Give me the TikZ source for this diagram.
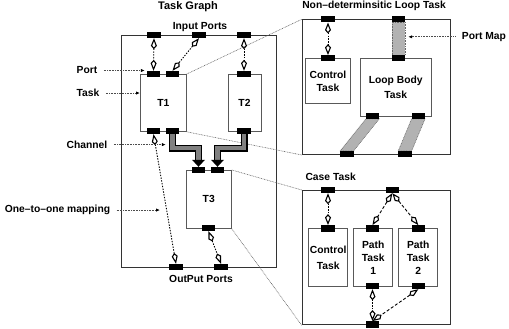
\documentclass[tikz,border=0pt]{standalone}
\usepackage{fontspec}
\setmainfont{Liberation Sans}
\usetikzlibrary{arrows.meta}
\tikzset{
  mapkite/.tip={Kite[open, length=11pt, width=6pt, inset=3.4pt, line width=1.1pt]},
  frame/.style={draw=black!80, line width=1pt, inner sep=0pt, anchor=north west},
  taskbox/.style={draw=black!65, line width=0.8pt, inner sep=0pt, anchor=north west, align=center},
  port/.style={fill=black, minimum width=13pt, minimum height=6pt, inner sep=0pt},
  map/.style={mapkite-mapkite, line width=0.9pt, dash pattern=on 1.4pt off 1.4pt},
  casemap/.style={mapkite-mapkite, line width=0.9pt, dash pattern=on 3pt off 2pt},
  lab/.style={draw=black!70, line width=0.8pt, dash pattern=on 0.8pt off 0.8pt,
    -{Latex[length=4pt, width=3.4pt, color=black]}},
  zoomline/.style={draw=black!60, line width=0.6pt, dash pattern=on 0.8pt off 0.8pt},
  chanout/.style={line width=7pt, draw=black},
  chanin/.style={line width=4.6pt, draw=black!50},
  band/.style={fill=black!30, draw=black!60, line width=0.6pt, dash pattern=on 0.8pt off 0.8pt},
  title/.style={font=\fontsize{11}{13}\selectfont\bfseries, anchor=base},
  txt/.style={anchor=base}
}
\begin{document}
\begin{tikzpicture}[x=1pt, y=-1pt, font=\fontsize{10.3}{13}\selectfont\bfseries]
\useasboundingbox (0,0) rectangle (509,329);

% ---------- Task graph ----------
\node[frame, minimum width=154.5pt, minimum height=232pt] (tg) at (121,35) {};
\node[taskbox, minimum width=46pt, minimum height=57pt] (T1) at (140,74) {T1};
\node[taskbox, minimum width=33.2pt, minimum height=57pt] (T2) at (227.5,74) {T2};
\node[taskbox, minimum width=45.3pt, minimum height=58pt] (T3) at (185.7,170) {T3};

% ---------- Loop task ----------
\node[frame, minimum width=148.3pt, minimum height=134.7pt] (loop) at (301.7,19.3) {};
\node[taskbox, minimum width=45pt, minimum height=44.4pt] (lctrl) at (305,58.3) {Control\\Task};
\node[taskbox, minimum width=70.7pt, minimum height=57.4pt] (lbody) at (360,58.3) {Loop Body\\[1.4pt]Task};

% ---------- Case task ----------
\node[frame, minimum width=148.3pt, minimum height=134.3pt] (case) at (301.7,190) {};
\node[taskbox, minimum width=39pt, minimum height=57.7pt] (cctrl) at (308.3,228.3) {Control\\[3pt]Task};
\node[taskbox, minimum width=39pt, minimum height=57.7pt] (path1) at (353.3,228.3) {Path\\Task\\1};
\node[taskbox, minimum width=39pt, minimum height=57.7pt] (path2) at (398.3,228.3) {Path\\Task\\2};

% ---------- Ports ----------
\node[port] (ip1) at (154,35) {};
\node[port] (ip2) at (199,35) {};
\node[port] (ip3) at (244,35) {};
\node[port] (t1a) at (153.5,74) {};
\node[port] (t1b) at (172.5,74) {};
\node[port] (t1c) at (153.5,131) {};
\node[port] (t1d) at (172.5,131) {};
\node[port] (t2a) at (244,74) {};
\node[port] (t2b) at (244,131) {};
\node[port] (t3a) at (198.5,170) {};
\node[port] (t3b) at (217.5,170) {};
\node[port] (t3c) at (208.5,228) {};
\node[port] (op1) at (176,267) {};
\node[port] (op2) at (221,267) {};

\node[port] (lp1) at (328,19.3) {};
\node[port] (lp2) at (398.5,19.3) {};
\node[port] (lc) at (328,58.3) {};
\node[port] (lb1) at (398.5,58.3) {};
\node[port] (lb2) at (372.5,115.7) {};
\node[port] (lb3) at (418.3,115.7) {};
\node[port] (lo1) at (347,154) {};
\node[port] (lo2) at (405,154) {};

\node[port] (cp1) at (328,190) {};
\node[port] (cp2) at (392.3,190) {};
\node[port] (cc) at (328,228.3) {};
\node[port] (c1a) at (372.5,228.3) {};
\node[port] (c2a) at (418.3,228.3) {};
\node[port] (c1b) at (372.5,286) {};
\node[port] (c2b) at (418.3,286) {};
\node[port] (co) at (372.5,324.3) {};

% ---------- Zoom guide lines ----------
\draw[zoomline] (T1.north east) -- (loop.north west);
\draw[zoomline] (T1.south east) -- (loop.south west);
\draw[zoomline] (T3.north east) -- (case.north west);
\draw[zoomline] (T3.south east) -- (case.south west);

% ---------- Port maps of the loop task ----------
\filldraw[band] (lp2.south west) rectangle (lb1.north east);
\filldraw[band] (lb2.south west) -- (lb2.south east) -- (lo1.north east) -- (lo1.north west) -- cycle;
\filldraw[band] (lb3.south west) -- (lb3.south east) -- (lo2.north east) -- (lo2.north west) -- cycle;

% ---------- Channels ----------
\coordinate (chy) at (0,148);
\coordinate (tri) at (0,160);
\draw[chanout] (t1d.center) |- (t3a |- chy) -- (t3a |- tri);
\draw[chanin]  (t1d.center) |- (t3a |- chy) -- (t3a |- tri);
\draw[chanout] (t2b.center) |- (t3b |- chy) -- (t3b |- tri);
\draw[chanin]  (t2b.center) |- (t3b |- chy) -- (t3b |- tri);
\fill (t3a.north) -- ++(-6.5,-7) -- ++(13,0) -- cycle;
\fill (t3b.north) -- ++(-6.5,-7) -- ++(13,0) -- cycle;

% ---------- One-to-one mappings ----------
\draw[map] (ip1.south) -- (t1a.north);
\draw[map] (ip2.south) -- (t1b.north);
\draw[map] (ip3.south) -- (t2a.north);
\draw[map] (t1c.south) -- (op1.north);
\draw[map] (t3c.south) -- (op2.north);
\draw[map] (lp1.south) -- (lc.north);
\draw[map] (cp1.south) -- (cc.north);
\draw[casemap] (cp2.south) -- (c1a.north);
\draw[casemap] (cp2.south) -- (c2a.north);
\draw[map] (c1b.south) -- (co.north);
\draw[casemap] (c2b.south) -- (co.north);

% redraw ports over connectors
\foreach \p in {ip1,ip2,ip3,t1a,t1b,t1c,t1d,t2a,t2b,t3a,t3b,t3c,op1,op2,
                lp1,lp2,lc,lb1,lb2,lb3,lo1,lo2,cp1,cp2,cc,c1a,c2a,c1b,c2b,co}
  \fill (\p.south west) rectangle (\p.north east);

% ---------- Titles ----------
\node[title] (ttg) at (188,9.5) {Task Graph};
\node[txt] (tin) at (200,29.3) {Input Ports};
\node[txt] (tout) at (201,282.7) {OutPut Ports};
\node[txt] (tloop) at (374,8.3) {Non--determinsitic Loop Task};
\node[txt, anchor=base west] (tcase) at (302,180) {Case Task};

% ---------- Annotations ----------
\node[txt] (lblport) at (87,74) {Port};
\node[txt] (lbltask) at (88,96.7) {Task};
\node[txt] (lblchan) at (87,148.3) {Channel};
\node[txt] (lblmapping) at (57.5,212.7) {One--to--one mapping};
\node[txt, anchor=base east] (lblpmap) at (509.5,39.3) {Port Map};
\coordinate (mappt) at (160,0);

\draw[lab] (lblport.east) ++(3,0) -- ([xshift=-2pt]lblport.east -| t1a.west);
\draw[lab] (lbltask.east) ++(3,0) -- (lbltask.east -| T1.west);
\draw[lab] (lblchan.east) ++(3,0) -- (lblchan.east -| t1d.west);
\draw[lab] (lblmapping.east) ++(3,0) -- (lblmapping.east -| mappt);
\draw[lab] (lblpmap.west) ++(-3,0) -- ([xshift=3pt]lblpmap.west -| lb1.east);
\end{tikzpicture}
\end{document}
